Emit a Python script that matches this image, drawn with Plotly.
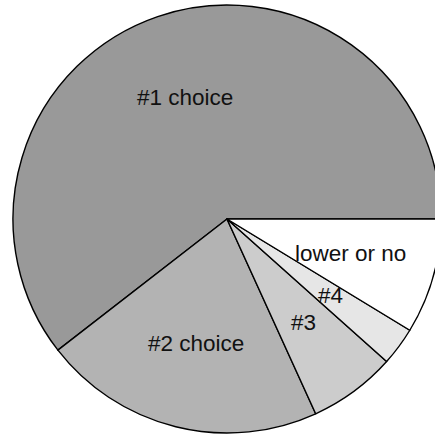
import math
import plotly.graph_objects as go

labels = ["#1 choice", "#2 choice", "#3", "#4", "lower or no"]
values = [60.5, 21.3, 6.6, 2.9, 8.7]
colors = ["#999999", "#b3b3b3", "#cccccc", "#e6e6e6", "#ffffff"]

total = sum(values)
# plotly (counterclockwise): the first slice ends at `rotation`; make it start at 3 o'clock
rotation = 90 - 360 * values[0] / total

fig = go.Figure(go.Pie(
    labels=labels,
    values=values,
    sort=False,
    direction="counterclockwise",
    rotation=rotation,
    marker=dict(colors=colors, line=dict(color="#000000", width=1.4)),
    textinfo="none",
    hoverinfo="label+percent",
    showlegend=False,
    domain=dict(x=[0, 1], y=[0, 1]),
))

# label positions derived from the data: along each slice bisector at 0.6 R
cum = 0.0
annotations = []
for lab, v in zip(labels, values):
    mid = (cum + v / 2) / total * 2 * math.pi
    cum += v
    annotations.append(dict(
        x=0.5 + 0.3 * math.cos(mid),
        y=0.5 + 0.3 * math.sin(mid),
        xref="paper", yref="paper",
        text=lab, showarrow=False,
        font=dict(family="Liberation Sans, Arial, sans-serif", size=22.5, color="#111111"),
        xanchor="center", yanchor="middle",
    ))

fig.update_layout(
    width=454, height=434,
    margin=dict(l=13, r=13, t=5, b=1, pad=0),
    paper_bgcolor="#ffffff",
    plot_bgcolor="#ffffff",
    annotations=annotations,
)

fig.write_html("out.html", post_script="document.body.style.overflow='hidden';document.documentElement.style.overflow='hidden';")
